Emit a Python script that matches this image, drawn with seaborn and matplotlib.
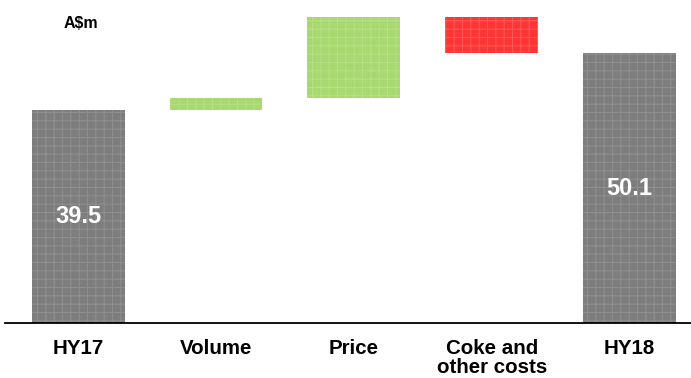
import matplotlib
matplotlib.use("Agg")
import matplotlib.pyplot as plt
import seaborn as sns
import pandas as pd

# Bridge from HY17 to HY18 earnings (A$m)
categories = ["HY17", "Volume", "Price", "Coke and\nother costs", "HY18"]
start_value = 39.5
changes = [2.2, 15.1, -6.7]
end_value = 50.1
value_labels = ["39.5", "", "", "", "50.1"]

bar_colors = ["#7d7d7d", "#a8d870", "#a8d870", "#ff3434", "#7d7d7d"]
pattern_colors = ["#8e8e8e", "#b6df86", "#b6df86", "#ff5656", "#8e8e8e"]

# Floating segments of the waterfall
bottoms = [0.0]
tops = [start_value]
level = start_value
for c in changes:
    new_level = level + c
    bottoms.append(min(level, new_level))
    tops.append(max(level, new_level))
    level = new_level
bottoms.append(0.0)
tops.append(end_value)

df = pd.DataFrame({"category": categories, "top": tops, "bottom": bottoms})

sns.set_theme(style="white")
plt.rcParams["font.family"] = ["Liberation Sans", "DejaVu Sans"]
plt.rcParams["hatch.linewidth"] = 0.8

fig = plt.figure(figsize=(6.91, 3.78), dpi=100)
ax = fig.add_axes([5 / 691, 0.1447, 686 / 691, 0.955 - 0.1447])

sns.barplot(data=df, x="category", y="top", hue="category",
            palette=dict(zip(categories, bar_colors)), legend=False,
            width=0.674, saturation=1, ax=ax, linewidth=0)

for patch, b, t, pc in zip(ax.patches, df["bottom"], df["top"], pattern_colors):
    patch.set_y(b)
    patch.set_height(t - b)
    patch.set_hatch("++")
    patch.set_edgecolor(pc)
    patch.set_linewidth(0)

for i, (lab, t) in enumerate(zip(value_labels, df["top"])):
    if lab:
        ax.text(i, t / 2, lab, ha="center", va="center", color="white",
                fontsize=17, fontweight="bold")

ax.set_ylim(0, 56.8)
ax.set_xlim(-0.53, 4.445)
ax.set_xlabel("")
ax.set_ylabel("")
ax.set_yticks([])
for side in ["top", "left", "right"]:
    ax.spines[side].set_visible(False)
ax.spines["bottom"].set_color("black")
ax.spines["bottom"].set_linewidth(1.3)
ax.tick_params(axis="x", length=0, pad=11)
for lbl in ax.get_xticklabels():
    lbl.set_fontsize(14.8)
    lbl.set_fontweight("bold")
    lbl.set_color("black")
    lbl.set_linespacing(1.05)

fig.text(81 / 691, 1 - 23 / 378, "A$m", ha="center", va="center",
         fontsize=11.5, fontweight="bold", color="black")

fig.savefig("out.png", dpi=100, facecolor="white")
